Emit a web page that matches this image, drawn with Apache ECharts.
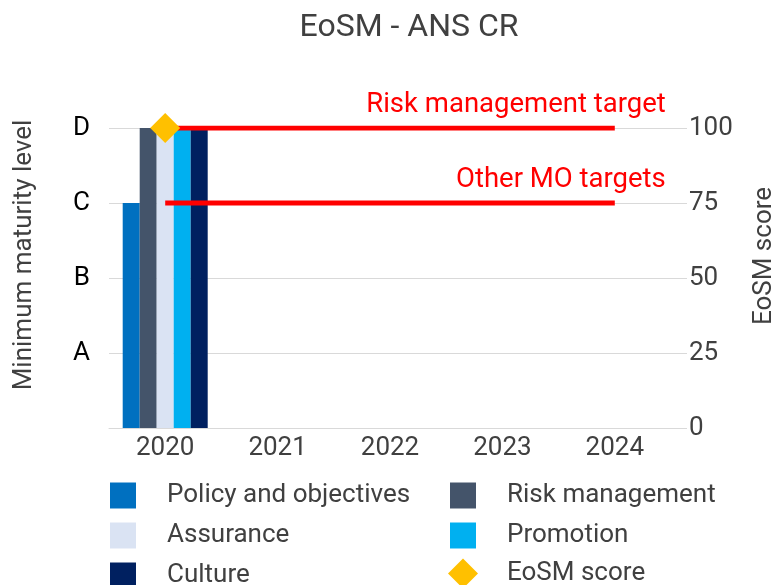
<!DOCTYPE html>
<html><head><meta charset="utf-8">
<script src="https://cdn.jsdelivr.net/npm/echarts@6/dist/echarts.min.js"></script>
<style>html,body{margin:0;padding:0;background:#fff}#c{width:777px;height:585px}</style>
</head><body><div id="c"></div>
<script>
const years = ['2020','2021','2022','2023','2024'];
const levelLabels = ['', 'A', 'B', 'C', 'D'];
const scoreTicks = [0, 25, 50, 75, 100];
const policy = [3, null, null, null, null];
const riskMgmt = [4, null, null, null, null];
const assurance = [4, null, null, null, null];
const promotion = [4, null, null, null, null];
const culture = [4, null, null, null, null];
const eosmScore = [100, null, null, null, null];
const riskTarget = [100, 100, 100, 100, 100];
const otherTarget = [75, 75, 75, 75, 75];

const FONT = 'Roboto';
const TXT = '#404040';
const FS = 26;
const chart = echarts.init(document.getElementById('c'));
function bar(name, data, color) {
  return {name, type:'bar', data, xAxisIndex:0, yAxisIndex:0, barWidth:17, barGap:'0%',
    itemStyle:{color}, z:2};
}
function target(data, text, dy) {
  return {type:'line', data: data.map((v,i)=> i===data.length-1 ? {value:v, label:{show:true, formatter:text,
      position:'top', align:'right', offset:[51, dy], color:'#FF0000', fontSize:27.5, fontFamily:FONT}} : v),
    xAxisIndex:0, yAxisIndex:1, symbol:'circle', symbolSize:0, showSymbol:true,
    itemStyle:{color:'#FF0000'}, lineStyle:{color:'#FF0000', width:5}, z:3, silent:true};
}
function leg(name, icon, left, top, size, pad) {
  return {left, top, padding:0, itemWidth:size, itemHeight:size, icon,
    textStyle:{fontSize:FS, color:TXT, fontFamily:FONT, padding:[3,0,0,pad], lineHeight:28},
    data:[name]};
}
chart.setOption({
  animation:false,
  textStyle:{fontFamily:FONT},
  legend:[
    leg('Policy and objectives','rect',110,480,26,26),
    leg('Assurance','rect',110,520,26,26),
    leg('Culture','rect',110,560,26,26),
    leg('Risk management','rect',450,480,26,26),
    leg('Promotion','rect',450,520,26,26),
    leg('EoSM score','diamond',448,558,30,24)
  ],
  grid:[
    {left:109, right:106, top:128, bottom:157},
    {left:109, right:90, top:128, bottom:157}
  ],
  xAxis:[
    {type:'category', data:years, gridIndex:0, axisTick:{show:false},
     axisLine:{show:true, lineStyle:{color:'#D9D9D9', width:1}},
     axisLabel:{fontSize:FS, color:TXT, margin:7}},
    {type:'value', gridIndex:1, show:false, min:0, max:1}
  ],
  yAxis:[
    {type:'value', gridIndex:0, min:0, max:4, interval:1, position:'left',
     axisLabel:{fontSize:FS, color:'#000', margin:19, formatter:(v)=>levelLabels[v]||''},
     axisLine:{show:false}, axisTick:{show:false}, splitLine:{show:false}},
    {type:'value', gridIndex:0, min:0, max:100, interval:25, position:'right',
     axisLabel:{fontSize:FS, color:TXT, margin:18, formatter:(v)=>scoreTicks.includes(v)?String(v):''},
     axisLine:{show:false}, axisTick:{show:false}, splitLine:{show:false}},
    {type:'value', gridIndex:1, min:0, max:100, interval:25,
     axisLabel:{show:false}, axisLine:{show:false}, axisTick:{show:false},
     splitLine:{show:true, lineStyle:{color:'#D9D9D9', width:1}}}
  ],
  graphic:[
    {type:'text', x:409, y:28, style:{text:'EoSM - ANS CR', fill:TXT, font:'32px Roboto', textAlign:'center', textVerticalAlign:'middle'}},
    {type:'text', x:24, y:255, rotation:Math.PI/2, style:{text:'Minimum maturity level', fill:TXT, font:FS+'px Roboto', textAlign:'center', textVerticalAlign:'middle'}},
    {type:'text', x:764, y:256, rotation:Math.PI/2, style:{text:'EoSM score', fill:TXT, font:FS+'px Roboto', textAlign:'center', textVerticalAlign:'middle'}}
  ],
  series:[
    bar('Policy and objectives', policy, '#0070C0'),
    bar('Risk management', riskMgmt, '#44546A'),
    bar('Assurance', assurance, '#DAE3F3'),
    bar('Promotion', promotion, '#00B0F0'),
    bar('Culture', culture, '#002060'),
    target(riskTarget, 'Risk management target', -4),
    target(otherTarget, 'Other MO targets', -4),
    {name:'EoSM score', type:'scatter', data:eosmScore, xAxisIndex:0, yAxisIndex:1, symbol:'diamond', symbolSize:30,
     itemStyle:{color:'#FFC000', opacity:1}, z:5}
  ]
});
</script></body></html>
